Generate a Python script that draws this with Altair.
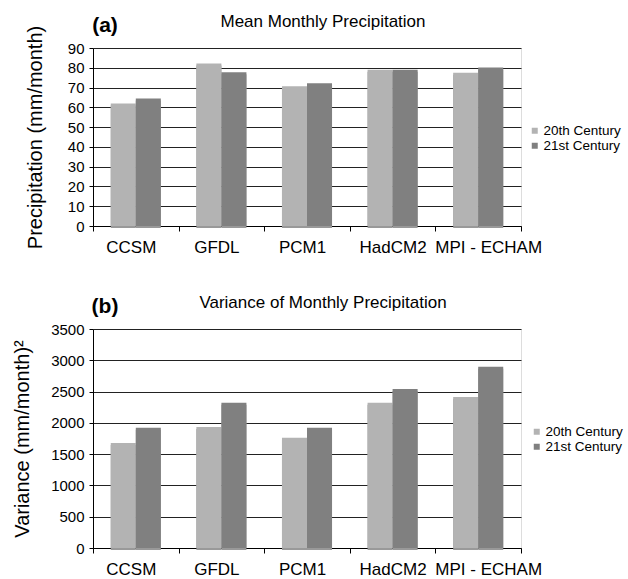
import altair as alt
import pandas as pd

models = ["CCSM", "GFDL", "PCM1", "HadCM2", "MPI - ECHAM"]
centuries = ["20th Century", "21st Century"]
mean_20th = [62.0, 82.2, 70.7, 79.0, 77.5]
mean_21st = [64.5, 77.8, 72.2, 79.0, 80.2]
var_20th = [1680, 1935, 1760, 2320, 2415]
var_21st = [1920, 2320, 1920, 2540, 2895]
mean_ticks = [0, 10, 20, 30, 40, 50, 60, 70, 80, 90]
var_ticks = [0, 500, 1000, 1500, 2000, 2500, 3000, 3500]
colors = ["#b3b3b3", "#808080"]

FONT = "Liberation Sans"
W = 428

LABEL_OFFSET = {
    "condition": [
        {"test": "datum.value == 'MPI - ECHAM'", "value": 10},
        {"test": "datum.value == 'HadCM2'", "value": 0},
    ],
    "value": -5,
}


def make_df(v20, v21):
    rows = []
    for m, a, b in zip(models, v20, v21):
        rows.append({"model": m, "century": centuries[0], "value": a})
        rows.append({"model": m, "century": centuries[1], "value": b})
    return pd.DataFrame(rows)


def panel(df, height, ticks, ytitle, title, tag, title_pad, legend_x, legend_y):
    x = alt.X("model:N", sort=models, title=None,
              scale=alt.Scale(paddingInner=0, paddingOuter=0),
              axis=alt.Axis(tickBand="extent", labelAngle=0, labelFontSize=17,
                            labelFont=FONT, labelColor="black", domainColor="black",
                            tickColor="black", tickSize=5, labelPadding=8, grid=False,
                            labelOffset=LABEL_OFFSET))
    xo = alt.XOffset("century:N", sort=centuries,
                     scale=alt.Scale(paddingInner=0, paddingOuter=0.71))
    y = alt.Y("value:Q", title=ytitle,
              scale=alt.Scale(domain=[ticks[0], ticks[-1]], nice=False),
              axis=alt.Axis(values=ticks, format="d", grid=True, gridColor="#222",
                            gridWidth=1, labelFontSize=15, labelFont=FONT,
                            labelColor="black", domainColor="black", tickColor="black",
                            tickSize=4, labelPadding=5, titleFont=FONT, titleFontSize=20,
                            titleFontWeight="normal", titleColor="black",
                            titlePadding=title_pad))
    shadow = alt.Chart(df).mark_bar(color="#999999", xOffset=2, yOffset=2, y2Offset=0).encode(
        x=x, xOffset=xo, y=y)
    bars = alt.Chart(df).mark_bar().encode(
        x=x, xOffset=xo, y=y,
        color=alt.Color("century:N", sort=centuries,
                        scale=alt.Scale(domain=centuries, range=colors),
                        legend=alt.Legend(title=None, orient="none", legendX=legend_x,
                                          legendY=legend_y, symbolType="square",
                                          symbolSize=36, symbolStrokeWidth=0,
                                          labelFontSize=13.5, labelFont=FONT,
                                          labelColor="black", labelOffset=2,
                                          rowPadding=0, padding=0)))
    tag_text = alt.Chart(pd.DataFrame({"t": [tag]})).mark_text(
        fontSize=21, fontWeight="bold", font=FONT, color="black",
        align="center", baseline="middle").encode(
        text="t:N", x=alt.value(12), y=alt.value(-22))
    title_text = alt.Chart(pd.DataFrame({"t": [title]})).mark_text(
        fontSize=17, font=FONT, color="black",
        align="center", baseline="middle").encode(
        text="t:N", x=alt.value(230), y=alt.value(-26))
    return alt.layer(shadow, bars, tag_text, title_text).properties(width=W, height=height)


top = panel(make_df(mean_20th, mean_21st), 178, mean_ticks,
            "Precipitation (mm/month)", "Mean Monthly Precipitation", "(a)", 22, 435, 76)
bottom = panel(make_df(var_20th, var_21st), 219, var_ticks,
               "Variance (mm/month)\u00b2", "Variance of Monthly Precipitation", "(b)", 18, 437, 96)

chart = alt.vconcat(top, bottom, spacing=103, bounds="flush",
                    padding={"left": 12, "top": 12, "right": 2, "bottom": 2}).resolve_scale(
    color="independent").configure_view(stroke="black", strokeWidth=1).configure(
    background="white")

chart.save("out.html", embed_options={"renderer": "svg", "actions": False})
